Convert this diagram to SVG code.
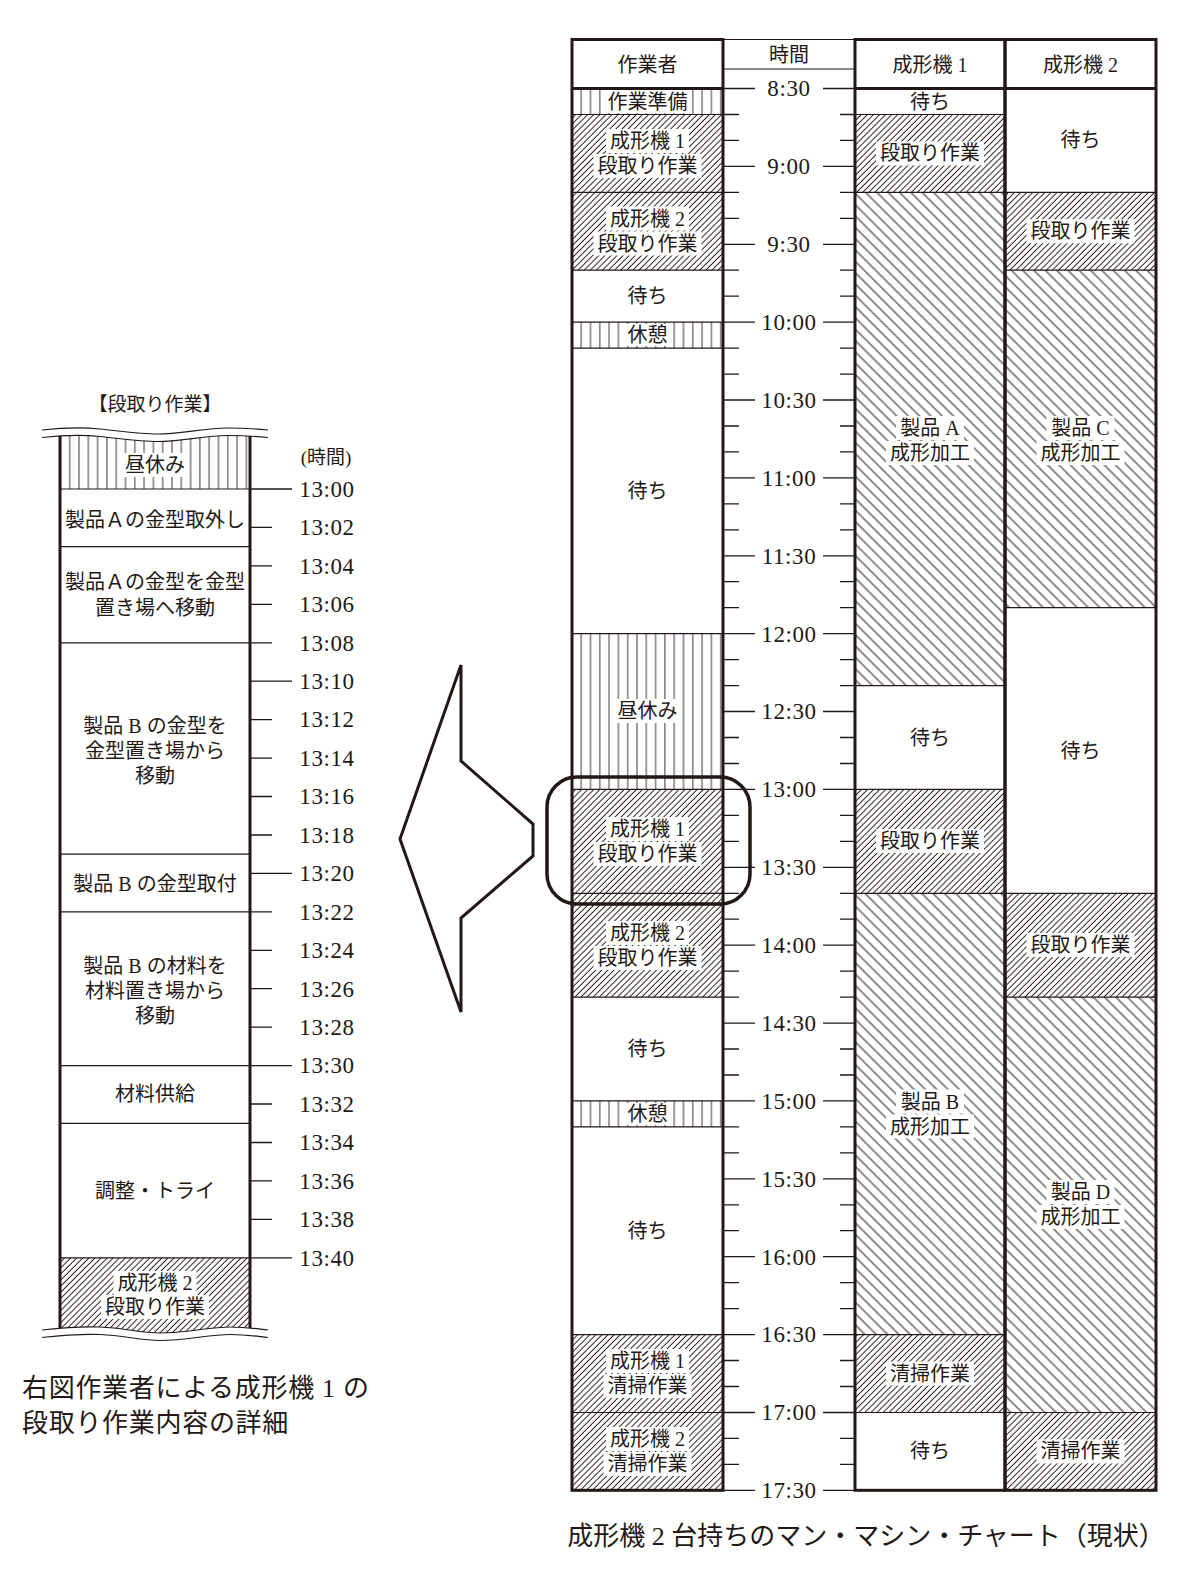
<svg xmlns="http://www.w3.org/2000/svg" width="1200" height="1575" viewBox="0 0 1200 1575">
<style>
.t{font-family:"Liberation Serif","Noto Sans CJK JP",serif;font-size:20px;fill:#231815;text-anchor:middle}
.tm{font-family:"Liberation Serif","Noto Sans CJK JP",serif;font-size:23px;letter-spacing:0.6px;fill:#231815;text-anchor:middle}
.cap{font-family:"Liberation Serif","Noto Sans CJK JP",serif;font-size:26px;fill:#231815}
.thin{stroke:#231815;stroke-width:1.2;fill:none}
.tick{stroke:#231815;stroke-width:1.3;fill:none}
.thick{stroke:#231815;stroke-width:3;fill:none}
.bg{fill:#ffffff}
.vh{fill:url(#vh)}
.fh{fill:url(#fh)}
.bh{fill:url(#bh)}
</style>
<defs>
<pattern id="vh" width="9.3" height="10" patternUnits="userSpaceOnUse"><line x1="4.6" y1="-1" x2="4.6" y2="11" stroke="#231815" stroke-width="0.9"/></pattern>
<pattern id="fh" width="4.3" height="10" patternUnits="userSpaceOnUse" patternTransform="rotate(45)"><line x1="2.1" y1="-1" x2="2.1" y2="11" stroke="#231815" stroke-width="0.95"/></pattern>
<pattern id="bh" width="8" height="10" patternUnits="userSpaceOnUse" patternTransform="rotate(-45)"><line x1="4" y1="-1" x2="4" y2="11" stroke="#231815" stroke-width="1"/></pattern>
<clipPath id="leftclip"><path d="M42,437.5 C60,435.5 80,434.5 100,436.5 C120,438.5 140,441.5 158,441.5 C180,441.5 205,435.5 228,435.5 C245,435.5 258,436.5 268,437.5 L268,1330 C258,1329 248,1327 230,1327 C210,1327 185,1333 160,1333 C140,1333 125,1328 100,1327 C80,1326 60,1328 42,1330 Z"/></clipPath>
</defs>
<rect width="1200" height="1575" fill="#ffffff"/>

<!-- LEFT DETAIL CHART -->
<g id="left-title"><text class="t" x="155" y="411" style="font-size:19px">【段取り作業】</text><text class="t" x="326" y="464" style="font-size:19px">(時間)</text></g>
<g id="left-chart">
<g clip-path="url(#leftclip)">
<rect x="60" y="420" width="190" height="69" class="vh"/>
<rect x="60" y="1257.8" width="190" height="85" class="fh"/>
<rect x="121" y="453" width="68" height="24" class="bg"/>
<rect x="113.5" y="1271" width="83" height="24" class="bg"/>
<rect x="101" y="1295" width="108" height="24" class="bg"/>
<path class="thin" d="M60,489H250 M60,546.7H250 M60,642.8H250 M60,854.2H250 M60,911.8H250 M60,1065.6H250 M60,1123.3H250 M60,1257.8H250"/>
<path class="thick" d="M60,420V1345 M250,420V1345"/>
</g>
<path class="thin" d="M42,430 C60,428 80,427 100,429 C120,431 140,434 158,434 C180,434 205,428 228,428 C245,428 258,429 268,430"/>
<path class="thin" d="M42,437.5 C60,435.5 80,434.5 100,436.5 C120,438.5 140,441.5 158,441.5 C180,441.5 205,435.5 228,435.5 C245,435.5 258,436.5 268,437.5"/>
<path class="thin" d="M42,1330 C60,1328 80,1326 100,1327 C125,1328 140,1333 160,1333 C185,1333 210,1327 230,1327 C248,1327 258,1329 268,1330"/>
<path class="thin" d="M42,1337.5 C60,1335.5 80,1333.5 100,1334.5 C125,1335.5 140,1340.5 160,1340.5 C185,1340.5 210,1334.5 230,1334.5 C248,1334.5 258,1336.5 268,1337.5"/>
<path class="tick" d="M250,489H292 M250,681.2H292 M250,873.4H292 M250,1065.6H292 M250,1257.8H292 M250,527.4H272 M250,565.9H272 M250,604.3H272 M250,642.8H272 M250,719.6H272 M250,758.1H272 M250,796.5H272 M250,835H272 M250,911.8H272 M250,950.3H272 M250,988.7H272 M250,1027.2H272 M250,1104H272 M250,1142.5H272 M250,1180.9H272 M250,1219.4H272"/>
<g id="left-labels">
<text class="t" x="155" y="472">昼休み</text>
<text class="t" x="155" y="527">製品Ａの金型取外し</text>
<text class="t" x="155" y="589">製品Ａの金型を金型</text>
<text class="t" x="155" y="615">置き場へ移動</text>
<text class="t" x="155" y="733">製品 B の金型を</text>
<text class="t" x="155" y="758">金型置き場から</text>
<text class="t" x="155" y="783">移動</text>
<text class="t" x="155" y="891">製品 B の金型取付</text>
<text class="t" x="155" y="973">製品 B の材料を</text>
<text class="t" x="155" y="998">材料置き場から</text>
<text class="t" x="155" y="1023">移動</text>
<text class="t" x="155" y="1101">材料供給</text>
<text class="t" x="155" y="1198">調整・トライ</text>
<text class="t" x="155" y="1290">成形機 2</text>
<text class="t" x="155" y="1314">段取り作業</text>
</g>
<g id="left-times">
<text class="tm" x="327" y="496.8">13:00</text>
<text class="tm" x="327" y="535.2">13:02</text>
<text class="tm" x="327" y="573.7">13:04</text>
<text class="tm" x="327" y="612.1">13:06</text>
<text class="tm" x="327" y="650.6">13:08</text>
<text class="tm" x="327" y="689">13:10</text>
<text class="tm" x="327" y="727.4">13:12</text>
<text class="tm" x="327" y="765.9">13:14</text>
<text class="tm" x="327" y="804.3">13:16</text>
<text class="tm" x="327" y="842.8">13:18</text>
<text class="tm" x="327" y="881.2">13:20</text>
<text class="tm" x="327" y="919.6">13:22</text>
<text class="tm" x="327" y="958.1">13:24</text>
<text class="tm" x="327" y="996.5">13:26</text>
<text class="tm" x="327" y="1035">13:28</text>
<text class="tm" x="327" y="1073.4">13:30</text>
<text class="tm" x="327" y="1111.8">13:32</text>
<text class="tm" x="327" y="1150.3">13:34</text>
<text class="tm" x="327" y="1188.7">13:36</text>
<text class="tm" x="327" y="1227.2">13:38</text>
<text class="tm" x="327" y="1265.6">13:40</text>
</g>
</g>
<g id="left-caption">
<text class="cap" x="22" y="1397" style="letter-spacing:0.7px">右図作業者による成形機 1 の</text>
<text class="cap" x="22" y="1432" style="letter-spacing:0.7px">段取り作業内容の詳細</text>
</g>

<!-- ARROW -->
<g id="arrow"><polygon points="400,839 461,665 461,761 533,824 533,856 461,918 461,1012" fill="#ffffff" stroke="#231815" stroke-width="3" stroke-linejoin="miter"/></g>

<!-- RIGHT CHART: worker column -->
<g id="worker-column">
<rect x="572" y="88.5" width="151" height="26" class="vh"/>
<rect x="572" y="114.5" width="151" height="77.8" class="fh"/>
<rect x="572" y="192.3" width="151" height="77.9" class="fh"/>
<rect x="572" y="322.1" width="151" height="26" class="vh"/>
<rect x="572" y="633.7" width="151" height="155.7" class="vh"/>
<rect x="572" y="789.4" width="151" height="103.9" class="fh"/>
<rect x="572" y="893.3" width="151" height="103.8" class="fh"/>
<rect x="572" y="1100.9" width="151" height="26" class="vh"/>
<rect x="572" y="1334.6" width="151" height="77.9" class="fh"/>
<rect x="572" y="1412.5" width="151" height="77.8" class="fh"/>
<rect x="603.5" y="90" width="88" height="23" class="bg"/>
<rect x="606" y="129" width="83" height="24" class="bg"/>
<rect x="593.5" y="154" width="108" height="24" class="bg"/>
<rect x="606" y="206.5" width="83" height="24" class="bg"/>
<rect x="593.5" y="231.5" width="108" height="24" class="bg"/>
<rect x="623.5" y="324" width="48" height="22" class="bg"/>
<rect x="613.5" y="699" width="68" height="24" class="bg"/>
<rect x="606" y="817" width="83" height="24" class="bg"/>
<rect x="593.5" y="842" width="108" height="24" class="bg"/>
<rect x="606" y="921" width="83" height="24" class="bg"/>
<rect x="593.5" y="946" width="108" height="24" class="bg"/>
<rect x="623.5" y="1103" width="48" height="22" class="bg"/>
<rect x="606" y="1349" width="83" height="24" class="bg"/>
<rect x="603.5" y="1374" width="88" height="24" class="bg"/>
<rect x="606" y="1427" width="83" height="24" class="bg"/>
<rect x="603.5" y="1452" width="88" height="24" class="bg"/>
<path class="thin" d="M572,114.5H723 M572,192.3H723 M572,270.2H723 M572,322.1H723 M572,348.1H723 M572,633.7H723 M572,789.4H723 M572,893.3H723 M572,997.1H723 M572,1100.9H723 M572,1126.9H723 M572,1334.6H723 M572,1412.5H723"/>
<rect x="572" y="39.5" width="151" height="1450.8" class="thick"/>
<path class="thick" d="M572,88.5H723"/>
<text class="t" x="647.5" y="72">作業者</text>
<text class="t" x="647.5" y="108.5">作業準備</text>
<text class="t" x="647.5" y="148">成形機 1</text>
<text class="t" x="647.5" y="173">段取り作業</text>
<text class="t" x="647.5" y="225.5">成形機 2</text>
<text class="t" x="647.5" y="250.5">段取り作業</text>
<text class="t" x="647.5" y="303">待ち</text>
<text class="t" x="647.5" y="342">休憩</text>
<text class="t" x="647.5" y="498">待ち</text>
<text class="t" x="647.5" y="718">昼休み</text>
<text class="t" x="647.5" y="836">成形機 1</text>
<text class="t" x="647.5" y="861">段取り作業</text>
<text class="t" x="647.5" y="940">成形機 2</text>
<text class="t" x="647.5" y="965">段取り作業</text>
<text class="t" x="647.5" y="1056">待ち</text>
<text class="t" x="647.5" y="1121">休憩</text>
<text class="t" x="647.5" y="1238">待ち</text>
<text class="t" x="647.5" y="1368">成形機 1</text>
<text class="t" x="647.5" y="1393">清掃作業</text>
<text class="t" x="647.5" y="1446">成形機 2</text>
<text class="t" x="647.5" y="1471">清掃作業</text>
</g>

<!-- time column -->
<g id="time-column">
<path class="thin" d="M723,39.5H855 M723,69H855"/>
<text class="t" x="789" y="62">時間</text>
<path class="tick" d="M723,88.5H755 M823,88.5H855 M723,166.4H755 M823,166.4H855 M723,244.3H755 M823,244.3H855 M723,322.1H755 M823,322.1H855 M723,400H755 M823,400H855 M723,477.9H755 M823,477.9H855 M723,555.8H755 M823,555.8H855 M723,633.7H755 M823,633.7H855 M723,711.5H755 M823,711.5H855 M723,789.4H755 M823,789.4H855 M723,867.3H755 M823,867.3H855 M723,945.2H755 M823,945.2H855 M723,1023.1H755 M823,1023.1H855 M723,1100.9H755 M823,1100.9H855 M723,1178.8H755 M823,1178.8H855 M723,1256.7H755 M823,1256.7H855 M723,1334.6H755 M823,1334.6H855 M723,1412.5H755 M823,1412.5H855 M723,1490.3H755 M823,1490.3H855"/>
<path class="tick" d="M723,114.5H739 M840,114.5H855 M723,140.4H739 M840,140.4H855 M723,192.3H739 M840,192.3H855 M723,218.3H739 M840,218.3H855 M723,270.2H739 M840,270.2H855 M723,296.2H739 M840,296.2H855 M723,348.1H739 M840,348.1H855 M723,374.1H739 M840,374.1H855 M723,426H739 M840,426H855 M723,451.9H739 M840,451.9H855 M723,503.9H739 M840,503.9H855 M723,529.8H739 M840,529.8H855 M723,581.7H739 M840,581.7H855 M723,607.7H739 M840,607.7H855 M723,659.6H739 M840,659.6H855 M723,685.6H739 M840,685.6H855 M723,737.5H739 M840,737.5H855 M723,763.5H739 M840,763.5H855 M723,815.4H739 M840,815.4H855 M723,841.3H739 M840,841.3H855 M723,893.3H739 M840,893.3H855 M723,919.2H739 M840,919.2H855 M723,971.1H739 M840,971.1H855 M723,997.1H739 M840,997.1H855 M723,1049H739 M840,1049H855 M723,1075H739 M840,1075H855 M723,1126.9H739 M840,1126.9H855 M723,1152.9H739 M840,1152.9H855 M723,1204.8H739 M840,1204.8H855 M723,1230.7H739 M840,1230.7H855 M723,1282.7H739 M840,1282.7H855 M723,1308.6H739 M840,1308.6H855 M723,1360.5H739 M840,1360.5H855 M723,1386.5H739 M840,1386.5H855 M723,1438.4H739 M840,1438.4H855 M723,1464.4H739 M840,1464.4H855"/>
<text class="tm" x="789" y="96.3">8:30</text>
<text class="tm" x="789" y="174.2">9:00</text>
<text class="tm" x="789" y="252.1">9:30</text>
<text class="tm" x="789" y="329.9">10:00</text>
<text class="tm" x="789" y="407.8">10:30</text>
<text class="tm" x="789" y="485.7">11:00</text>
<text class="tm" x="789" y="563.6">11:30</text>
<text class="tm" x="789" y="641.5">12:00</text>
<text class="tm" x="789" y="719.3">12:30</text>
<text class="tm" x="789" y="797.2">13:00</text>
<text class="tm" x="789" y="875.1">13:30</text>
<text class="tm" x="789" y="953">14:00</text>
<text class="tm" x="789" y="1030.9">14:30</text>
<text class="tm" x="789" y="1108.7">15:00</text>
<text class="tm" x="789" y="1186.6">15:30</text>
<text class="tm" x="789" y="1264.5">16:00</text>
<text class="tm" x="789" y="1342.4">16:30</text>
<text class="tm" x="789" y="1420.3">17:00</text>
<text class="tm" x="789" y="1498.1">17:30</text>
</g>

<!-- machine 1 -->
<g id="machine1-column">
<rect x="855" y="114.5" width="150" height="77.8" class="fh"/>
<rect x="855" y="192.3" width="150" height="493.3" class="bh"/>
<rect x="855" y="789.4" width="150" height="103.9" class="fh"/>
<rect x="855" y="893.3" width="150" height="441.3" class="bh"/>
<rect x="855" y="1334.6" width="150" height="77.9" class="fh"/>
<rect x="876" y="141.4" width="108" height="24" class="bg"/>
<rect x="896" y="416" width="68" height="24" class="bg"/>
<rect x="886" y="441" width="88" height="24" class="bg"/>
<rect x="876" y="829" width="108" height="24" class="bg"/>
<rect x="896" y="1089.5" width="68" height="24" class="bg"/>
<rect x="886" y="1114.5" width="88" height="24" class="bg"/>
<rect x="886" y="1361.5" width="88" height="24" class="bg"/>
<path class="thin" d="M855,114.5H1005 M855,192.3H1005 M855,685.6H1005 M855,789.4H1005 M855,893.3H1005 M855,1334.6H1005 M855,1412.5H1005"/>
<rect x="855" y="39.5" width="150" height="1450.8" class="thick"/>
<path class="thick" d="M855,88.5H1005"/>
<text class="t" x="930" y="72">成形機 1</text>
<text class="t" x="930" y="108.5">待ち</text>
<text class="t" x="930" y="160.4">段取り作業</text>
<text class="t" x="930" y="435">製品 A</text>
<text class="t" x="930" y="460">成形加工</text>
<text class="t" x="930" y="744.5">待ち</text>
<text class="t" x="930" y="848">段取り作業</text>
<text class="t" x="930" y="1108.5">製品 B</text>
<text class="t" x="930" y="1133.5">成形加工</text>
<text class="t" x="930" y="1380.5">清掃作業</text>
<text class="t" x="930" y="1458.4">待ち</text>
</g>

<!-- machine 2 -->
<g id="machine2-column">
<rect x="1005" y="192.3" width="151" height="77.9" class="fh"/>
<rect x="1005" y="270.2" width="151" height="337.5" class="bh"/>
<rect x="1005" y="893.3" width="151" height="103.8" class="fh"/>
<rect x="1005" y="997.1" width="151" height="415.4" class="bh"/>
<rect x="1005" y="1412.5" width="151" height="77.8" class="fh"/>
<rect x="1026.5" y="219.2" width="108" height="24" class="bg"/>
<rect x="1046.5" y="416" width="68" height="24" class="bg"/>
<rect x="1036.5" y="441" width="88" height="24" class="bg"/>
<rect x="1026.5" y="933" width="108" height="24" class="bg"/>
<rect x="1046.5" y="1180" width="68" height="24" class="bg"/>
<rect x="1036.5" y="1205" width="88" height="24" class="bg"/>
<rect x="1036.5" y="1439.4" width="88" height="24" class="bg"/>
<path class="thin" d="M1005,192.3H1156 M1005,270.2H1156 M1005,607.7H1156 M1005,893.3H1156 M1005,997.1H1156 M1005,1412.5H1156"/>
<rect x="1005" y="39.5" width="151" height="1450.8" class="thick"/>
<path class="thick" d="M1005,88.5H1156"/>
<text class="t" x="1080.5" y="72">成形機 2</text>
<text class="t" x="1080.5" y="147.4">待ち</text>
<text class="t" x="1080.5" y="238.2">段取り作業</text>
<text class="t" x="1080.5" y="435">製品 C</text>
<text class="t" x="1080.5" y="460">成形加工</text>
<text class="t" x="1080.5" y="757.5">待ち</text>
<text class="t" x="1080.5" y="952">段取り作業</text>
<text class="t" x="1080.5" y="1199">製品 D</text>
<text class="t" x="1080.5" y="1224">成形加工</text>
<text class="t" x="1080.5" y="1458.4">清掃作業</text>
</g>

<!-- focus box -->
<g id="focus-box"><rect x="547" y="777" width="203" height="127" rx="30" ry="30" fill="none" stroke="#231815" stroke-width="3.5"/></g>

<g id="right-caption"><text class="cap" x="866" y="1545" text-anchor="middle">成形機 2 台持ちのマン・マシン・チャート（現状）</text></g>
</svg>
